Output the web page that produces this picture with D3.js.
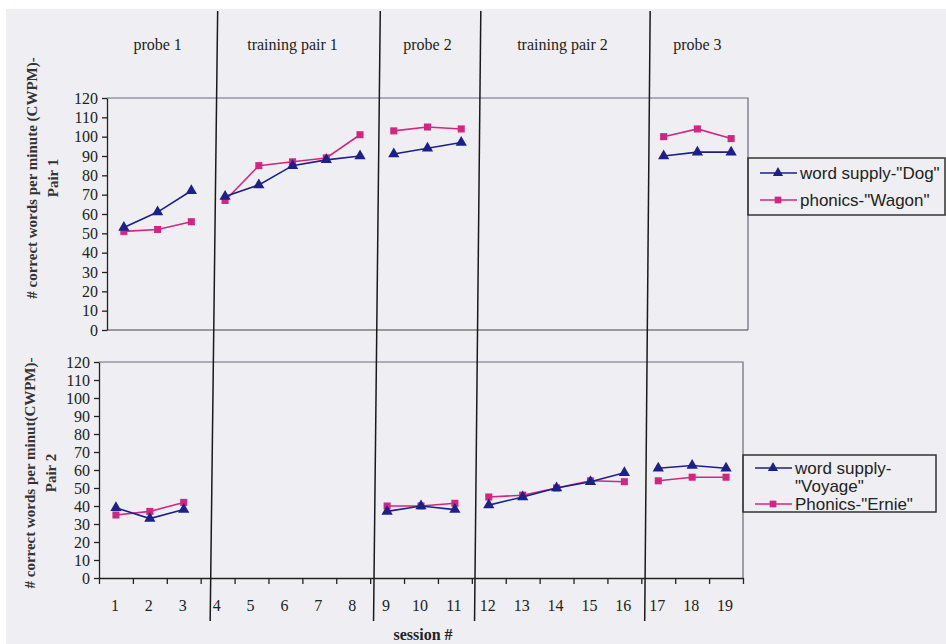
<!DOCTYPE html>
<html><head><meta charset="utf-8">
<script src="https://cdn.jsdelivr.net/npm/d3@7"></script>
<style>body{margin:0;background:#fff;} svg{display:block;}</style>
</head><body>
<script>
// ---------- data ----------
const sessions = d3.range(1, 20);
const phases = [
  {label: "probe 1", from: 1, to: 3},
  {label: "training pair 1", from: 4, to: 8},
  {label: "probe 2", from: 9, to: 11},
  {label: "training pair 2", from: 12, to: 16},
  {label: "probe 3", from: 17, to: 19}
];
const phaseBoundaries = [3.78, 8.6, 11.58, 16.6];
const yTicks = d3.range(0, 121, 10);

// Pair 1 (sessions 1..19, null = not measured)
const dogValues   = [53, 61, 72, 69, 75, 85, 88, 90, 91, 94, 97, null, null, null, null, null, 90, 92, 92];
const wagonValues = [51, 52, 56, 67, 85, 87, 89, 101, 103, 105, 104, null, null, null, null, null, 100, 104, 99];
// Pair 2
const voyageValues = [39, 33, 38, null, null, null, null, null, 37, 40, 38, 40.5, 45, 50, 53.5, 58.5, 61, 62.5, 61];
const ernieValues  = [35, 37, 42, null, null, null, null, null, 40, 40, 41.5, 45, 46, 50, 54, 53.5, 54, 56, 56];

const legend1 = [["word supply-\"Dog\""], ["phonics-\"Wagon\""]];
const legend2 = [["word supply-", "\"Voyage\""], ["Phonics-\"Ernie\""]];

// ---------- drawing ----------
const W = 946, H = 644;
const BLUE = "#1d2088", PINK = "#d3267f";
const svg = d3.select("body").append("svg").attr("width", W).attr("height", H);
svg.append("rect").attr("x", 6).attr("y", 9).attr("width", W - 6).attr("height", H - 9).attr("fill", "#efeff3");

const serif = "'Liberation Serif', 'DejaVu Serif', serif";
const sans = "'Liberation Sans', Arial, sans-serif";

const xTop = d3.scaleLinear().domain([0.5, 19.5]).range([107, 748]);
const yTop = d3.scaleLinear().domain([0, 120]).range([330, 98]);
const xBot = d3.scaleLinear().domain([0.5, 19.5]).range([99, 743]);
const yBot = d3.scaleLinear().domain([0, 120]).range([578, 362]);

function panel(x, y, series, showX) {
  const g = svg.append("g");
  const [x0, x1] = x.range(), [y0, y1] = y.range();
  // frame (top & right gray)
  g.append("path").attr("d", `M${x0},${y1}H${x1}V${y0}`).attr("fill", "none").attr("stroke", "#6a6a78").attr("stroke-width", 1.2);
  if (!showX) {
    g.append("path").attr("d", `M${x0},${y0}H${x1}`).attr("stroke", "#444").attr("stroke-width", 1.2);
  }
  // y axis
  const ya = g.append("g").attr("transform", `translate(${x0},0)`)
    .call(d3.axisLeft(y).tickValues(yTicks).tickSize(5).tickSizeOuter(0).tickPadding(4));
  ya.select(".domain").attr("stroke", "#222").attr("stroke-width", 1.3);
  ya.selectAll(".tick line").attr("stroke", "#222").attr("stroke-width", 1.3);
  ya.selectAll("text").attr("font-family", serif).attr("font-size", 16).attr("fill", "#222");
  if (showX) {
    const bounds = d3.range(0.5, 19.6, 1);
    const xa = g.append("g").attr("transform", `translate(0,${y0})`)
      .call(d3.axisBottom(x).tickValues(bounds).tickSize(6).tickSizeOuter(0).tickFormat(""));
    xa.select(".domain").attr("stroke", "#222").attr("stroke-width", 1.3);
    xa.selectAll(".tick line").attr("stroke", "#222").attr("stroke-width", 1.3);
    g.selectAll(".xl").data(sessions).join("text")
      .attr("x", d => x(d) - 1).attr("y", y0 + 33)
      .attr("text-anchor", "middle").attr("font-family", serif).attr("font-size", 16).attr("fill", "#222")
      .text(d => d);
  }
  const line = d3.line().x(d => x(d.s)).y(d => y(d.v));
  series.forEach(sr => {
    const pts = sessions.map((s, i) => ({s, v: sr.values[i]})).filter(d => d.v != null);
    phases.forEach(p => {
      const seg = pts.filter(d => d.s >= p.from && d.s <= p.to);
      if (seg.length > 1) g.append("path").attr("d", line(seg)).attr("fill", "none")
        .attr("stroke", sr.color).attr("stroke-width", 1.6);
    });
    g.selectAll(null).data(pts).join("path")
      .attr("transform", d => `translate(${x(d.s)},${y(d.v)})`)
      .attr("d", d3.symbol().type(sr.shape).size(sr.shape === d3.symbolTriangle ? 55 : 50))
      .attr("fill", sr.color);
  });
}

panel(xTop, yTop, [
  {values: wagonValues, color: PINK, shape: d3.symbolSquare},
  {values: dogValues, color: BLUE, shape: d3.symbolTriangle}
], false);
panel(xBot, yBot, [
  {values: ernieValues, color: PINK, shape: d3.symbolSquare},
  {values: voyageValues, color: BLUE, shape: d3.symbolTriangle}
], true);

// phase change lines
phaseBoundaries.forEach(b => {
  svg.append("line").attr("x1", xTop(b)).attr("y1", 11).attr("x2", xBot(b)).attr("y2", 621)
    .attr("stroke", "#1a1a1a").attr("stroke-width", 1.5);
});
// phase labels
svg.selectAll(".ph").data(phases).join("text")
  .attr("x", d => xTop((d.from + d.to) / 2)).attr("y", 50)
  .attr("text-anchor", "middle").attr("font-family", serif).attr("font-size", 16).attr("fill", "#222")
  .text(d => d.label);

// y titles
function yTitle(cx, cy, lines) {
  const t = svg.append("text").attr("transform", `translate(${cx},${cy}) rotate(-90)`)
    .attr("text-anchor", "middle").attr("font-family", serif).attr("font-size", 15)
    .attr("font-weight", "bold").attr("fill", "#333");
  lines.forEach((l, i) => t.append("tspan").attr("x", 0).attr("dy", i === 0 ? 0 : 21).text(l));
}
yTitle(37, 178, ["# correct words per minute (CWPM)-", "Pair 1"]);
yTitle(35, 473, ["# correct words per minut(CWPM)-", "Pair 2"]);

svg.append("text").attr("x", 423).attr("y", 640).attr("text-anchor", "middle")
  .attr("font-family", serif).attr("font-size", 16).attr("font-weight", "bold").attr("fill", "#222")
  .text("session #");

// legends
function legend(x0, y0, w, h, entries, rowY) {
  const g = svg.append("g");
  g.append("rect").attr("x", x0).attr("y", y0).attr("width", w).attr("height", h)
    .attr("fill", "none").attr("stroke", "#333").attr("stroke-width", 1.5);
  const cols = [BLUE, PINK], shapes = [d3.symbolTriangle, d3.symbolSquare];
  entries.forEach((lines, i) => {
    const cy = y0 + rowY[i];
    g.append("line").attr("x1", x0 + 12).attr("x2", x0 + 49).attr("y1", cy).attr("y2", cy)
      .attr("stroke", cols[i]).attr("stroke-width", 1.6);
    g.append("path").attr("transform", `translate(${x0 + 30},${cy})`)
      .attr("d", d3.symbol().type(shapes[i]).size(45)).attr("fill", cols[i]);
    const t = g.append("text").attr("font-family", sans).attr("font-size", 17).attr("fill", "#222");
    lines.forEach((l, j) => t.append("tspan").attr("x", x0 + 52).attr("y", cy + 6 + j * 18).text(l));
  });
}
legend(748, 158, 197, 57, legend1, [15, 42]);
legend(743, 455, 193, 57, legend2, [13, 49]);
</script>
</body></html>
